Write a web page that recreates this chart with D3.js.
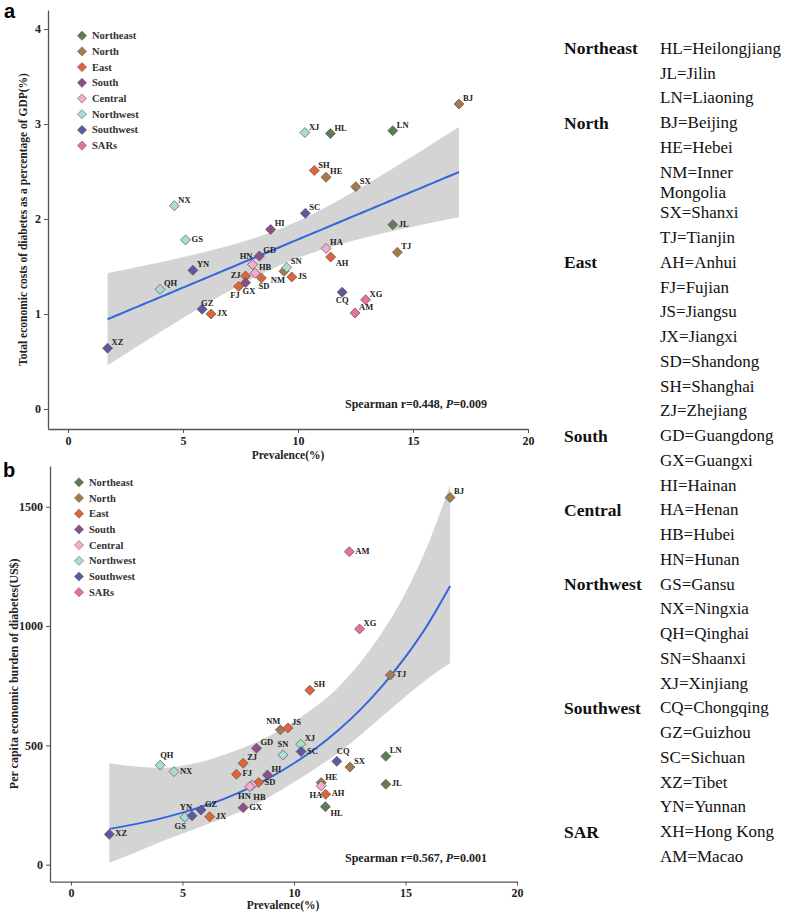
<!DOCTYPE html>
<html><head><meta charset="utf-8">
<script src="https://cdn.jsdelivr.net/npm/d3@7"></script>
<style>body{margin:0;background:#fff}svg{display:block}</style>
</head><body><svg id="c" width="785" height="913"></svg>
<script>
// ---------------- DATA ----------------
const regions = ["Northeast","North","East","South","Central","Northwest","Southwest","SARs"];
const regionColors = ["#5e7d55","#a67a4a","#e2633a","#8c4f8a","#f4abcf","#a8ddd0","#5a5aa3","#e8709c"];

const provinces = ["HL","JL","LN","BJ","HE","NM","SX","TJ","AH","FJ","JS","JX","SD","SH","ZJ","GD","GX","HI","HA","HB","HN","GS","NX","QH","SN","XJ","CQ","GZ","SC","XZ","YN","XG","AM"];
const provinceRegion = ["Northeast","Northeast","Northeast","North","North","North","North","North","East","East","East","East","East","East","East","South","South","South","Central","Central","Central","Northwest","Northwest","Northwest","Northwest","Northwest","Southwest","Southwest","Southwest","Southwest","Southwest","SARs","SARs"];
const prevalence = [11.41,14.12,14.12,17.0,11.22,9.39,12.51,14.32,11.42,7.42,9.73,6.22,8.41,10.71,7.72,8.32,7.72,8.81,11.22,8.13,8.02,5.11,4.62,4.0,9.51,10.3,11.92,5.83,10.32,1.72,5.43,12.94,12.48];
const costPctGDP = [2.90,1.94,2.93,3.21,2.44,1.45,2.34,1.65,1.60,1.29,1.39,1.00,1.38,2.51,1.40,1.61,1.33,1.89,1.69,1.43,1.52,1.78,2.14,1.26,1.49,2.91,1.23,1.05,2.06,0.64,1.46,1.15,1.01];
const perCapitaCost = [243,337,454,1539,344,565,409,795,295,379,573,201,344,731,425,488,239,376,330,334,327,199,390,417,460,505,433,229,474,127,205,988,1312];

// panel b smooth
const fitBx  = [1.72,3,4,5,6,7,8,9,10,11,12,13,14,15,16,17.0];
const fitBy  = [150,172,193,218,247,281,322,369,425,489,564,652,754,871,1007,1168];
const fitBlo = [8,55,95,130,165,200,240,290,345,405,470,545,625,705,780,845];
const fitBhi = [425,410,405,415,435,465,500,545,600,665,745,850,980,1140,1340,1592];

const xTicks = [0,5,10,15,20];
const yTicksA = [0,1,2,3,4];
const yTicksB = [0,500,1000,1500];

const statA = {r:"0.448", p:"0.009"};
const statB = {r:"0.567", p:"0.001"};

const tableGroups = ["Northeast","North","East","South","Central","Northwest","Southwest","SAR"];
const tableEntries = [
  ["HL=Heilongjiang","JL=Jilin","LN=Liaoning"],
  ["BJ=Beijing","HE=Hebei","NM=Inner|Mongolia","SX=Shanxi","TJ=Tianjin"],
  ["AH=Anhui","FJ=Fujian","JS=Jiangsu","JX=Jiangxi","SD=Shandong","SH=Shanghai","ZJ=Zhejiang"],
  ["GD=Guangdong","GX=Guangxi","HI=Hainan"],
  ["HA=Henan","HB=Hubei","HN=Hunan"],
  ["GS=Gansu","NX=Ningxia","QH=Qinghai","SN=Shaanxi","XJ=Xinjiang"],
  ["CQ=Chongqing","GZ=Guizhou","SC=Sichuan","XZ=Tibet","YN=Yunnan"],
  ["XH=Hong Kong","AM=Macao"]
];

// label placement (layout only)
const labelSideA = {JL:"r",JS:"r",AH:"dr",CQ:"b",GS:"r",HN:"ul",NM:"bl",ZJ:"l",SD:"bs",GX:"bs",FJ:"bl",GZ:"ua",JX:"r"};
const labelSideB = {QH:"us",NX:"r",FJ:"r",SD:"r",HN:"bl",HB:"bb",GX:"r",YN:"ul",GS:"bl",JX:"r",XZ:"r",NM:"ul",SN:"u",SC:"r",CQ:"us",JL:"r",HA:"bl",AH:"r",HL:"dr",TJ:"r",AM:"r"};
const sides = {ur:["start",4,-6], r:["start",6,-1], dr:["start",5,6], us:["start",0,-10], ua:["start",-1,-6],
  u:["middle",0,-11], ul:["end",0,-9], l:["end",-5,-1], bl:["end",1,9], bs:["start",-3,8], bb:["start",1,12], b:["middle",0,8]};

// ---------------- DRAW ----------------
const svg = d3.select("#c");
const SERIF = "'Liberation Serif','Times New Roman',serif";
const color = d3.scaleOrdinal(regions, regionColors);
const pts = provinces.map((p,i)=>({code:p, region:provinceRegion[i], x:prevalence[i], a:costPctGDP[i], b:perCapitaCost[i]}));
const diamond = r => `M0,${-r}L${r},0L0,${r}L${-r},0Z`;

function tq(df){const z=1.959964;return z+(z**3+z)/(4*df)+(5*z**5+16*z**3+3*z)/(96*df*df);}

function axes(g, x, y, yTicks, xAxisY, yAxisX, yFmt){
  const gx = g.append("g").attr("transform",`translate(0,${xAxisY})`)
    .call(d3.axisBottom(x).tickValues(xTicks).tickSize(4).tickPadding(3).tickSizeOuter(0));
  const gy = g.append("g").attr("transform",`translate(${yAxisX},0)`)
    .call(d3.axisLeft(y).tickValues(yTicks).tickSize(4).tickPadding(3).tickSizeOuter(0).tickFormat(yFmt));
  [gx,gy].forEach(a=>{
    a.select(".domain").attr("stroke","#555").attr("stroke-width",1.3);
    a.selectAll(".tick line").attr("stroke","#555").attr("stroke-width",1);
    a.selectAll("text").attr("font-family",SERIF).attr("font-weight","bold").attr("font-size",12).attr("fill","#222");
  });
}

function points(g, x, y, key, sideMap){
  const gp = g.append("g");
  pts.forEach(d=>{
    gp.append("path").attr("d",diamond(5)).attr("transform",`translate(${x(d.x)},${y(d[key])})`)
      .attr("fill",color(d.region)).attr("stroke","#555").attr("stroke-width",0.7);
  });
  pts.forEach(d=>{
    const s = sides[sideMap[d.code]||"ur"];
    gp.append("text").attr("x",x(d.x)+s[1]).attr("y",y(d[key])+s[2]).attr("text-anchor",s[0])
      .attr("dominant-baseline","central").attr("font-family",SERIF).attr("font-weight","bold")
      .attr("font-size",8.5).attr("fill","#222").text(d.code);
  });
}

function legend(g, lx, ly){
  regions.forEach((r,i)=>{
    g.append("path").attr("d",diamond(4.6)).attr("transform",`translate(${lx},${ly+i*15.7})`)
      .attr("fill",color(r)).attr("stroke","#666").attr("stroke-width",0.6);
    g.append("text").attr("x",lx+10).attr("y",ly+i*15.7).attr("dominant-baseline","central")
      .attr("font-family",SERIF).attr("font-weight","bold").attr("font-size",10.5).attr("fill","#333").text(r);
  });
}

function stat(g, x0, y0, s){
  const t = g.append("text").attr("x",x0).attr("y",y0).attr("dominant-baseline","central")
    .attr("font-family",SERIF).attr("font-weight","bold").attr("font-size",12).attr("fill","#222");
  t.append("tspan").text(`Spearman r=${s.r}, `);
  t.append("tspan").attr("font-style","italic").text("P");
  t.append("tspan").text(`=${s.p}`);
}

// ----- Panel a -----
{
  const g = svg.append("g");
  const x = d3.scaleLinear().domain([-0.87,20]).range([48,528]);
  const y = d3.scaleLinear().domain([-0.2105,4.2]).range([429,10]);
  // linear regression + 95% CI
  const n = pts.length, xm = d3.mean(pts,d=>d.x), ym = d3.mean(pts,d=>d.a);
  const sxx = d3.sum(pts,d=>(d.x-xm)**2), sxy = d3.sum(pts,d=>(d.x-xm)*(d.a-ym));
  const b1 = sxy/sxx, b0 = ym-b1*xm;
  const sse = d3.sum(pts,d=>(d.a-b0-b1*d.x)**2), s = Math.sqrt(sse/(n-2)), t = tq(n-2);
  const [xmin,xmax] = d3.extent(pts,d=>d.x);
  const grid = d3.range(0,81).map(i=>xmin+(xmax-xmin)*i/80).map(xv=>{
    const f=b0+b1*xv, se=s*Math.sqrt(1/n+(xv-xm)**2/sxx); return {x:xv,f,lo:f-t*se,hi:f+t*se};});
  g.append("path").datum(grid).attr("fill","#d4d4d4")
    .attr("d",d3.area().x(d=>x(d.x)).y0(d=>y(d.lo)).y1(d=>y(d.hi)));
  g.append("path").datum(grid).attr("fill","none").attr("stroke","#3366dd").attr("stroke-width",2)
    .attr("d",d3.line().x(d=>x(d.x)).y(d=>y(d.f)));
  axes(g,x,y,yTicksA,429,48,d3.format("d"));
  points(g,x,y,"a",labelSideA);
  legend(g,82,35.7);
  stat(g,345,404,statA);
  g.append("text").attr("x",288).attr("y",455).attr("text-anchor","middle").attr("dominant-baseline","central")
    .attr("font-family",SERIF).attr("font-weight","bold").attr("font-size",11.5).attr("fill","#222").text("Prevalence(%)");
  g.append("text").attr("transform",`translate(23,${(10+429)/2}) rotate(-90)`).attr("text-anchor","middle")
    .attr("dominant-baseline","central").attr("font-family",SERIF).attr("font-weight","bold").attr("font-size",11.5)
    .attr("fill","#222").text("Total economic costs of diabetes as a percentage of GDP(%)");
  g.append("text").attr("x",4).attr("y",18).attr("font-family","'Liberation Sans',Arial,sans-serif")
    .attr("font-weight","bold").attr("font-size",20).text("a");
}

// ----- Panel b -----
{
  const g = svg.append("g");
  const x = d3.scaleLinear().domain([-0.94,20]).range([50,517]);
  const y = d3.scaleLinear().domain([-71,1671]).range([881.6,466]);
  const band = fitBx.map((v,i)=>({x:v,f:fitBy[i],lo:fitBlo[i],hi:fitBhi[i]}));
  g.append("path").datum(band).attr("fill","#d4d4d4")
    .attr("d",d3.area().curve(d3.curveMonotoneX).x(d=>x(d.x)).y0(d=>y(d.lo)).y1(d=>y(d.hi)));
  g.append("path").datum(band).attr("fill","none").attr("stroke","#3366dd").attr("stroke-width",2)
    .attr("d",d3.line().curve(d3.curveMonotoneX).x(d=>x(d.x)).y(d=>y(d.f)));
  axes(g,x,y,yTicksB,881.6,50,d3.format("d"));
  points(g,x,y,"b",labelSideB);
  legend(g,79,482.3);
  stat(g,345,858,statB);
  g.append("text").attr("x",283).attr("y",905).attr("text-anchor","middle").attr("dominant-baseline","central")
    .attr("font-family",SERIF).attr("font-weight","bold").attr("font-size",11.5).attr("fill","#222").text("Prevalence(%)");
  g.append("text").attr("transform",`translate(14,${(466+881.6)/2}) rotate(-90)`).attr("text-anchor","middle")
    .attr("dominant-baseline","central").attr("font-family",SERIF).attr("font-weight","bold").attr("font-size",12)
    .attr("fill","#222").text("Per capita economic burden of diabetes(US$)");
  g.append("text").attr("x",3).attr("y",477).attr("font-family","'Liberation Sans',Arial,sans-serif")
    .attr("font-weight","bold").attr("font-size",20).text("b");
}

// ----- Table -----
{
  const g = svg.append("g").attr("font-family",SERIF).attr("fill","#111");
  let yy = 48.3;
  tableGroups.forEach((grp,gi)=>{
    g.append("text").attr("x",564).attr("y",yy).attr("dominant-baseline","central").attr("font-weight","bold")
      .attr("font-size",17.5).text(grp);
    tableEntries[gi].forEach(e=>{
      const parts = e.split("|");
      parts.forEach((p,pi)=>{
        g.append("text").attr("x",660).attr("y",yy+pi*20).attr("dominant-baseline","central")
          .attr("font-size",17).text(p);
      });
      yy += 24.75 + (parts.length-1)*16;
    });
  });
}
</script></body></html>
